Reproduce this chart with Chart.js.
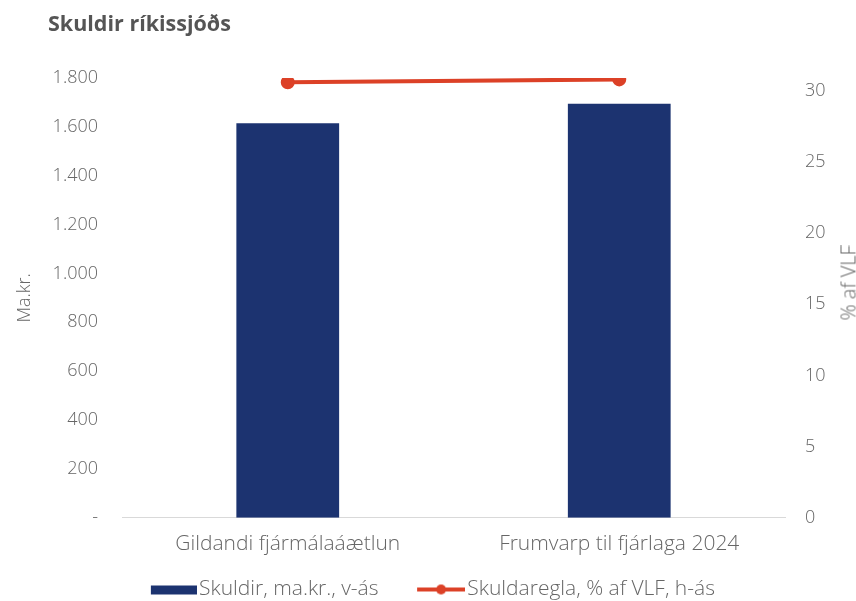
<!DOCTYPE html>
<html>
<head>
<meta charset="utf-8">
<script src="https://cdn.jsdelivr.net/npm/chart.js@4.4.1/dist/chart.umd.min.js"></script>
<style>
  html, body { margin: 0; padding: 0; background: #fff; }
  .wrap { position: relative; width: 856px; height: 601px; overflow: hidden; }
  .title {
    position: absolute; left: 48px; top: 8px;
    font: bold 21.5px "Open Sans", sans-serif; color: #555;
  }
  .rtitle {
    position: absolute; left: 848px; top: 283px;
    transform: translate(-50%, -50%) rotate(-90deg);
    font: 300 20px "Open Sans", sans-serif; color: #666; white-space: nowrap;
  }
  canvas { position: absolute; left: 0; top: 0; }
</style>
</head>
<body>
<div class="wrap">
  <canvas id="myChart" width="856" height="601"></canvas>
  <div class="title">Skuldir ríkissjóðs</div>
  <div class="rtitle">% af VLF</div>
</div>
<script>
const categories = ['Gildandi fjármálaáætlun', 'Frumvarp til fjárlaga 2024']
const skuldir = [1615, 1695]        // ma.kr., vinstri ás
const skuldaregla = [30.6, 30.8]    // % af VLF, hægri ás
const rightTicks = [0, 5, 10, 15, 20, 25, 30]

const navy = '#1c3370'
const red = '#dc4127'
const textCol = '#666'
const fontName = '"Open Sans", sans-serif'

// litlar myndir fyrir skýringar (merkið er hægra megin, vinstri hlutinn gegnsær)
const legendImg = (kind) => {
  const c = document.createElement('canvas')
  c.width = 64
  c.height = 12
  const g = c.getContext('2d')
  if (kind === 'bar') {
    g.fillStyle = navy
    g.fillRect(18, 2, 46, 9)
  } else {
    g.strokeStyle = red
    g.lineWidth = 4
    g.beginPath()
    g.moveTo(16, 6)
    g.lineTo(64, 6)
    g.stroke()
    g.fillStyle = red
    g.beginPath()
    g.arc(40, 6, 5, 0, Math.PI * 2)
    g.fill()
  }
  return c
}

const fmt = (v) => {
  if (v === 0) return '-'
  return String(v).replace(/\B(?=(\d{3})+(?!\d))/g, '.')
}

const tickFont = { family: fontName, size: 18, weight: 300 }

const ctx = document.getElementById('myChart').getContext('2d')
const myChart = new Chart(ctx, {
  type: 'bar',
  data: {
    labels: categories,
    datasets: [
      {
        label: 'Skuldir, ma.kr., v-ás',
        data: skuldir,
        backgroundColor: navy,
        yAxisID: 'y',
        categoryPercentage: 1,
        barPercentage: 0.31,
        order: 1,
      },
      {
        type: 'line',
        label: 'Skuldaregla, % af VLF, h-ás',
        data: skuldaregla,
        yAxisID: 'y1',
        borderColor: red,
        backgroundColor: red,
        borderWidth: 4,
        pointRadius: 5,
        pointHoverRadius: 5,
        order: 0,
      },
    ]
  },
  options: {
    responsive: false,
    animation: false,
    layout: { padding: { top: 78, left: 0, right: 0, bottom: -9 } },
    scales: {
      x: {
        grid: { display: false, drawTicks: false },
        border: { display: true, color: '#d9d9d9', width: 1 },
        ticks: { color: textCol, font: { family: fontName, size: 21, weight: 300 }, padding: 13.5 },
      },
      y: {
        position: 'left',
        min: 0,
        max: 1800,
        grid: { display: false, drawTicks: false },
        border: { display: false },
        ticks: {
          stepSize: 200,
          color: textCol,
          font: tickFont,
          padding: 24,
          callback: (v) => fmt(v),
        },
        title: {
          display: true, text: 'Ma.kr.', color: textCol,
          font: tickFont, padding: { top: 14, bottom: 0 },
        },
        afterFit: (s) => { s.width = 122 },
      },
      y1: {
        position: 'right',
        min: 0,
        max: 30.9,
        grid: { display: false, drawTicks: false },
        border: { display: false },
        afterBuildTicks: (s) => { s.ticks = rightTicks.map(v => ({ value: v })) },
        ticks: {
          color: textCol,
          font: tickFont,
          padding: 20,
        },
        afterFit: (s) => { s.width = 71 },
      },
    },
    plugins: {
      tooltip: { enabled: false },
      legend: {
        position: 'bottom',
        labels: {
          usePointStyle: true,
          pointStyleWidth: 47.5,
          padding: 9,
          color: textCol,
          font: { family: fontName, size: 21, weight: 300 },
          generateLabels: () => [
            { text: 'Skuldir, ma.kr., v-ás' + ' '.repeat(4), pointStyle: legendImg('bar'), fontColor: textCol, datasetIndex: 0, hidden: false, lineWidth: 0 },
            { text: 'Skuldaregla, % af VLF, h-ás', pointStyle: legendImg('line'), fontColor: textCol, datasetIndex: 1, hidden: false, lineWidth: 0 },
          ],
        },
      },
    }
  }
})
</script>
</body>
</html>
